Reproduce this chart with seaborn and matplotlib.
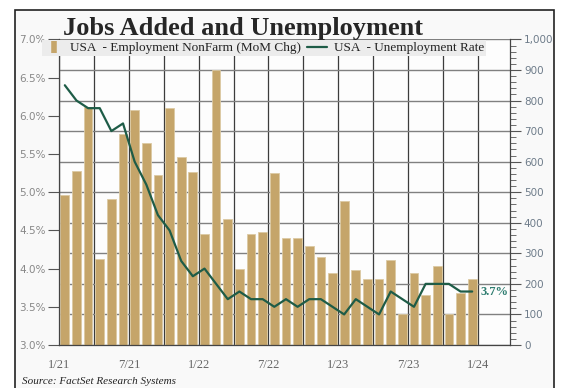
import numpy as np
import pandas as pd
import seaborn as sns
import matplotlib.pyplot as plt
from matplotlib.lines import Line2D
from matplotlib.patches import Rectangle
from matplotlib.ticker import FixedLocator, MultipleLocator, FuncFormatter

# monthly data, Jan 2021 - Dec 2023
months = pd.period_range('2021-01', '2023-12', freq='M').strftime('%m/%y')
jobs = [490, 570, 780, 283, 479, 690, 768, 661, 557, 777, 614, 566,
        363, 901, 411, 250, 363, 369, 563, 350, 350, 324, 289, 237,
        471, 247, 216, 216, 277, 100, 234, 165, 260, 100, 169, 216]
rate = [6.4, 6.2, 6.1, 6.1, 5.8, 5.9, 5.4, 5.1, 4.7, 4.5, 4.1, 3.9,
        4.0, 3.8, 3.6, 3.7, 3.6, 3.6, 3.5, 3.6, 3.5, 3.6, 3.6, 3.5,
        3.4, 3.6, 3.5, 3.4, 3.7, 3.6, 3.5, 3.8, 3.8, 3.8, 3.7, 3.7]
tick_labels = ['1/21', '7/21', '1/22', '7/22', '1/23', '7/23', '1/24']

bar_color = '#c5a56a'
line_color = '#1e5c47'
serif = 'Liberation Serif'

sns.set_style('white')
plt.rcParams['font.family'] = ['DejaVu Sans']

W, H = 563, 388
fig = plt.figure(figsize=(W / 100, H / 100), dpi=100)
fig.patches.append(Rectangle((14.5 / W, -0.1), (554 - 14.5) / W, 1.1 - 10 / H,
                             transform=fig.transFigure, facecolor='#f9f9f9',
                             edgecolor='#222222', lw=1.2, zorder=-1))

ax = fig.add_axes([59 / W, 1 - 345 / H, 451 / W, 305.6 / H])
ax.set_facecolor('#fdfdfd')
pos = np.arange(len(months))

sns.barplot(x=pos, y=jobs, ax=ax, color=bar_color, saturation=1, width=0.75,
            edgecolor='#dccaa3', linewidth=0.6)
ax.set_axisbelow(True)
ax.set_ylim(0, 1000)

# line on a twin axis, percent scale on the left
ax2 = ax.twinx()
sns.lineplot(x=pos, y=rate, ax=ax2, color=line_color, lw=1.6)

ax.yaxis.tick_right()
ax.yaxis.set_major_locator(MultipleLocator(100))
ax.yaxis.set_minor_locator(MultipleLocator(20))
ax.yaxis.set_major_formatter(FuncFormatter(lambda v, p: f'{v:,.0f}'))
ax.tick_params(axis='y', which='major', direction='out', length=8, width=0.8,
               color='#555555', labelsize=7.5, labelcolor='#6e7c8a', pad=2)
ax.tick_params(axis='y', which='minor', direction='out', length=4, width=0.6,
               color='#555555')

# quarter grid lines and monthly minor ticks
quarters = [-0.5 + 3 * k for k in range(13)]
ax.xaxis.set_major_locator(FixedLocator(quarters))
ax.xaxis.set_minor_locator(FixedLocator([-0.5 + m for m in range(37) if m % 3]))
ax.set_xticklabels([tick_labels[k // 2] if k % 2 == 0 else '' for k in range(13)])
ax.tick_params(axis='x', which='major', direction='out', length=7, width=0.8,
               color='#555555', labelsize=9, labelcolor='#666666', pad=3)
ax.tick_params(axis='x', which='minor', direction='out', length=3.5, width=0.6,
               color='#555555')
for lbl in ax.get_xticklabels():
    lbl.set_family(serif)
ax.grid(axis='y', color='#808080', lw=1.0)
ax.grid(axis='x', color='#3c3c3c', lw=0.9)
ax.set_xlabel('')
ax.set_ylabel('')
for s in ax.spines.values():
    s.set_visible(False)

ax2.set_ylim(3, 7)
ax2.set_xlim(-0.5, 38.25)
ax2.yaxis.tick_left()
ax2.yaxis.set_major_locator(MultipleLocator(0.5))
ax2.yaxis.set_major_formatter(FuncFormatter(lambda v, p: f'{v:.1f}%'))
ax2.tick_params(axis='y', direction='out', length=8, width=0.8, color='#555555',
                labelsize=7.5, labelcolor='#888888', pad=1.5)
ax2.set_ylabel('')
ax2.spines['top'].set_visible(False)
for side in ['left', 'right', 'bottom']:
    ax2.spines[side].set_color('#444444')
    ax2.spines[side].set_linewidth(0.9)

ax2.annotate(f'{rate[-1]}%', xy=(pos[-1], rate[-1]), xytext=(6, 0),
             textcoords='offset points', va='center', ha='left', fontsize=9,
             fontweight='bold', color='#2e7d70', family=serif)

handles = [Line2D([], [], ls='none', marker='|', ms=8, mew=4, color=bar_color),
           Line2D([], [], color=line_color, lw=1.6)]
leg = ax2.legend(handles, ['USA  - Employment NonFarm (MoM Chg)', 'USA  - Unemployment Rate'],
                 ncol=2, loc='upper left', bbox_to_anchor=(42 / W, 1 - 40 / H),
                 bbox_transform=fig.transFigure, frameon=True, fancybox=False,
                 framealpha=1, borderaxespad=0, borderpad=0.15, handlelength=1.5,
                 handletextpad=0.5, columnspacing=0.45,
                 prop={'family': serif, 'size': 9.5})
leg.get_frame().set_facecolor('#ececec')
leg.get_frame().set_edgecolor('none')
for t in leg.get_texts():
    t.set_color('#222222')

fig.text(63 / W, 1 - 34.5 / H, 'Jobs Added and Unemployment', fontsize=19,
         fontweight='bold', family=serif, va='baseline', ha='left')
fig.text(22 / W, 1 - 381 / H, 'Source: FactSet Research Systems', fontsize=8,
         style='italic', family=serif, va='center', ha='left', color='#222222')

fig.savefig('out.png', dpi=100)
